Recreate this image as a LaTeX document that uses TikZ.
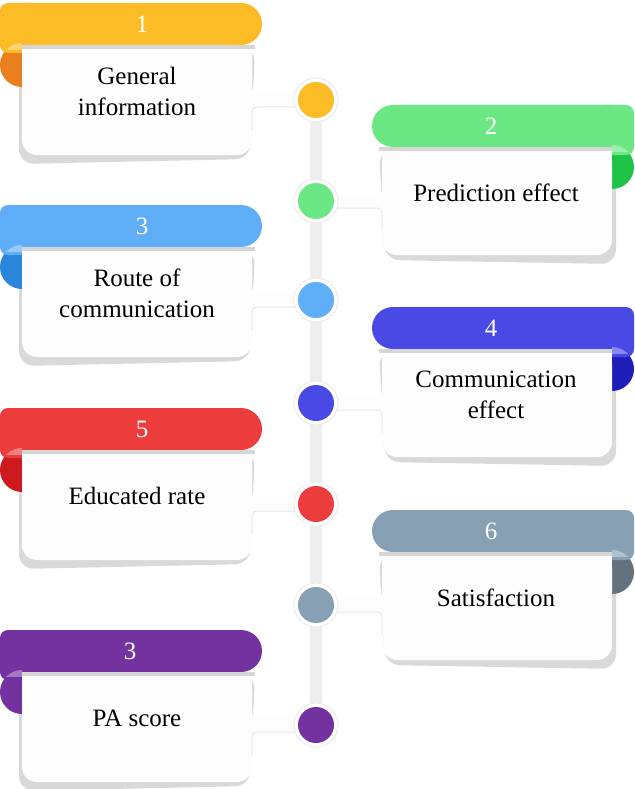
\documentclass[tikz,border=0pt]{standalone}
\usepackage{fontspec}
\setmainfont{Liberation Serif}
\usetikzlibrary{calc,backgrounds}

\definecolor{yellowB}{HTML}{FBBC26}\definecolor{yellowC}{HTML}{EA7F1E}
\definecolor{greenB}{HTML}{6BE883}\definecolor{greenC}{HTML}{1EC244}
\definecolor{blueB}{HTML}{5EAEF8}\definecolor{blueC}{HTML}{2B86DB}
\definecolor{indigoB}{HTML}{4949E6}\definecolor{indigoC}{HTML}{1E1EB8}
\definecolor{redB}{HTML}{EC3C3C}\definecolor{redC}{HTML}{CC1A1F}
\definecolor{slateB}{HTML}{87A0B4}\definecolor{slateC}{HTML}{62727E}
\definecolor{purpleB}{HTML}{7332A0}\definecolor{purpleC}{HTML}{7332A0}
\definecolor{cardwhite}{HTML}{FDFDFD}
\definecolor{shadowgray}{HTML}{D9D9D9}
\definecolor{bandgray}{HTML}{D6D6D6}
\definecolor{ringgray}{HTML}{E8E8E8}
\definecolor{bargray}{HTML}{EEEEEE}

\tikzset{
  cardtext/.style={font=\fontsize{25}{31}\selectfont, align=center, text=black, inner sep=0pt},
  numtext/.style={font=\fontsize{25}{31}\selectfont, text=white, inner sep=0pt},
  dotring/.style={circle, fill=white, draw=ringgray, line width=0.8pt, minimum size=44pt, inner sep=0pt},
  dot/.style={circle, minimum size=36pt, inner sep=0pt},
  fillet/.style={draw=ringgray, line width=1pt},
  bar/.style={draw=bargray, line width=12pt},
}

% #1 banner top, #2 dot y, #3 id, #4 banner colour, #5 curl colour, #6 number, #7 text, #8 number x
\newcommand\leftcard[8]{%
  \fill[shadowgray, rounded corners=15pt] (19,{#1+44}) -- (19,{#1+161}) -- (250,{#1+156}) -- (255,{#1+44}) -- cycle;
  \fill[#5] (22,{#1+62}) circle (22pt);
  \fill[#4, rounded corners=8pt] (0,#1) rectangle (40,{#1+50});
  \fill[#4, rounded corners=21pt] (0,#1) rectangle (262,{#1+42});
  \fill[cardwhite] (22,{#1+42}) rectangle (252,{#1+90});
  \fill[cardwhite, rounded corners=15pt] (22,{#1+42}) rectangle (252,{#1+152});
  \fill[bandgray] (22,{#1+42}) rectangle (255,{#1+46});
  \begin{scope}
    \clip (22,{#1+62}) circle (22pt);
    \fill[white, opacity=0.35] (0,{#1+38}) rectangle (22,{#1+47});
  \end{scope}
  \node[numtext] (n#3) at (#8,{#1+21}) {#6};
  \node[cardtext] (t#3) at (137,{#1+88}) {#7};
  \coordinate (d#3) at (316,#2);
  \fill[cardwhite] ($(d#3)+(-64,-17)$) .. controls ($(d#3)+(-64,-7)$) .. ($(d#3)+(-54,-7)$)
     -- ($(d#3)+(-16,-7)$) -- ($(d#3)+(-16,7)$) -- ($(d#3)+(-54,7)$)
     .. controls ($(d#3)+(-64,7)$) .. ($(d#3)+(-64,17)$) -- cycle;
  \draw[fillet] ($(d#3)+(-18,7)$) -- ($(d#3)+(-54,7)$)
     .. controls ($(d#3)+(-64,7)$) .. ($(d#3)+(-64,17)$) -- ($(d#3)+(-64,30)$);
  \node[dotring] (r#3) at (d#3) {};
  \node[dot, fill=#4] (c#3) at (d#3) {};
}

\newcommand\rightcard[8]{%
  \fill[shadowgray, rounded corners=15pt] (616,{#1+44}) -- (616,{#1+159}) -- (385,{#1+155}) -- (379,{#1+44}) -- cycle;
  \fill[#5] (612,{#1+62}) circle (22pt);
  \fill[#4, rounded corners=8pt] (594,#1) rectangle (634,{#1+50});
  \fill[#4, rounded corners=21pt] (372,#1) rectangle (634,{#1+42});
  \fill[cardwhite] (382,{#1+42}) rectangle (612,{#1+90});
  \fill[cardwhite, rounded corners=15pt] (382,{#1+42}) rectangle (612,{#1+150});
  \fill[bandgray] (379,{#1+42}) rectangle (612,{#1+46});
  \begin{scope}
    \clip (612,{#1+62}) circle (22pt);
    \fill[white, opacity=0.35] (612,{#1+38}) rectangle (634,{#1+47});
  \end{scope}
  \node[numtext] (n#3) at (#8,{#1+21}) {#6};
  \node[cardtext] (t#3) at (496,{#1+88}) {#7};
  \coordinate (d#3) at (316,#2);
  \fill[cardwhite] ($(d#3)+(66,-17)$) .. controls ($(d#3)+(66,-7)$) .. ($(d#3)+(56,-7)$)
     -- ($(d#3)+(16,-7)$) -- ($(d#3)+(16,7)$) -- ($(d#3)+(56,7)$)
     .. controls ($(d#3)+(66,7)$) .. ($(d#3)+(66,17)$) -- cycle;
  \draw[fillet] ($(d#3)+(18,7)$) -- ($(d#3)+(56,7)$)
     .. controls ($(d#3)+(66,7)$) .. ($(d#3)+(66,17)$) -- ($(d#3)+(66,30)$);
  \node[dotring] (r#3) at (d#3) {};
  \node[dot, fill=#4] (c#3) at (d#3) {};
}

\begin{document}
\begin{tikzpicture}[x=1pt, y=-1pt]
  \useasboundingbox (0,0) rectangle (634,789);

  \leftcard{3}{100}{1}{yellowB}{yellowC}{1}{General\\information}{142}
  \rightcard{105}{201}{2}{greenB}{greenC}{2}{Prediction effect}{491}
  \leftcard{205}{300}{3}{blueB}{blueC}{3}{Route of\\communication}{142}
  \rightcard{307}{403}{4}{indigoB}{indigoC}{4}{Communication\\effect}{491}
  \leftcard{408}{504}{5}{redB}{redC}{5}{Educated rate}{142}
  \rightcard{510}{605}{6}{slateB}{slateC}{6}{Satisfaction}{491}
  \leftcard{630}{725}{7}{purpleB}{purpleC}{3}{PA score}{130}

  % page background and the timeline spine behind the dots
  \begin{scope}[on background layer]
    \fill[white] (0,0) rectangle (634,789);
    \draw[bar] (c1) -- (c7);
  \end{scope}
\end{tikzpicture}
\end{document}
